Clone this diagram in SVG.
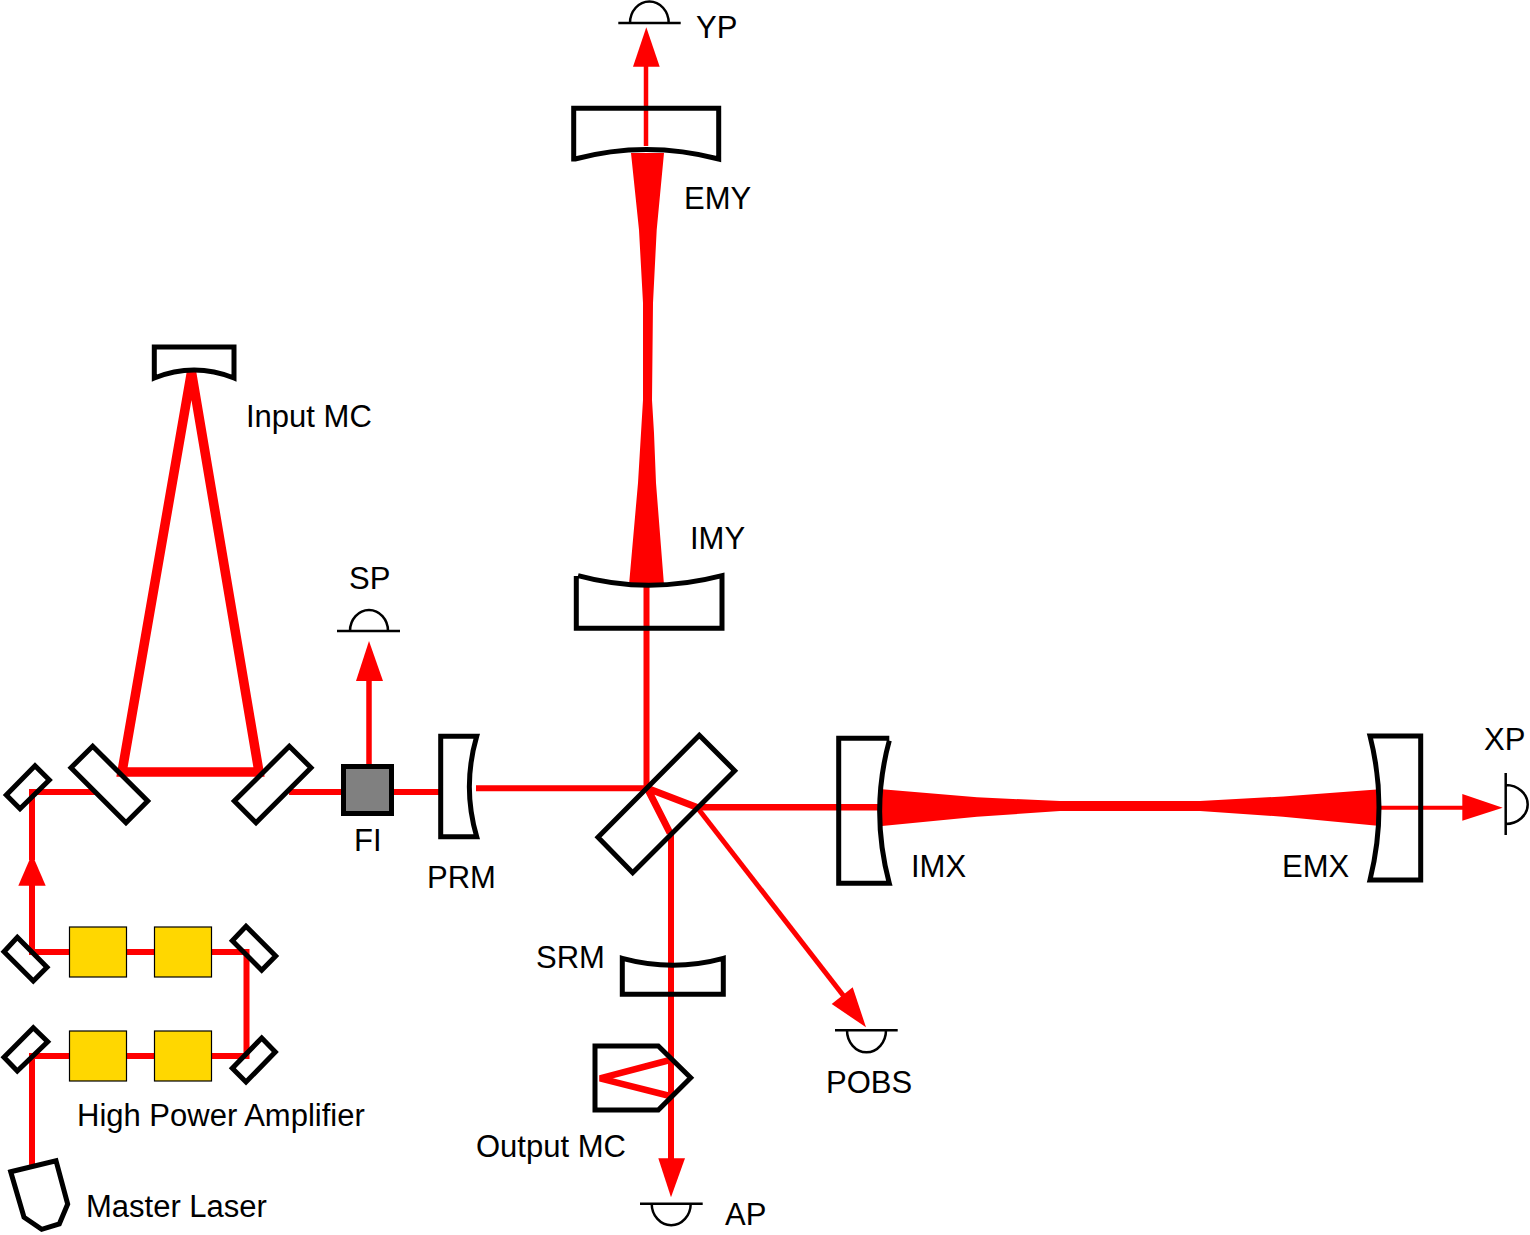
<svg xmlns="http://www.w3.org/2000/svg" width="1530" height="1235" viewBox="0 0 1530 1235">
<style>
.b{fill:none;stroke:#f00;stroke-width:6}
.t{stroke-width:9.500}
.f{fill:#f00;stroke:none}
.o{fill:none;stroke:#000;stroke-width:5;stroke-linejoin:miter}
.d{fill:none;stroke:#000;stroke-width:2.5}
.a{fill:#ffd700;stroke:#000;stroke-width:1.2}
text{font-family:"Liberation Sans",Arial,sans-serif;font-size:31px;fill:#000}
</style>
<rect width="1530" height="1235" fill="#fff"/>
<g id="connectors">
<path class="b" d="M32,1165V1056H246.500V952H32V880"/>
<path class="b" d="M32,860V792H95"/>
<path class="f" d="M32,854L45.700,885.700H18.300Z"/>
<path class="b t" d="M122,772L191.500,372L259,772Z"/>
<path class="b" d="M289,792H440"/>
<path class="b" style="stroke-width:5.500" d="M369,766V675"/>
<path class="f" d="M369,641L383,681H356Z"/>
<path class="b" d="M476,788.300H646.500V585"/>
<path class="f" d="M631,153L639,230L643,303L643,400L641,433L638,483L629,585H664L656,483L654,433L652,400L653,303L656.700,230L664,153Z"/>
<path class="b" style="stroke-width:4.500" d="M646,146V60"/>
<path class="f" d="M646.300,27.300L659.700,66.700H633Z"/>
<path class="b" style="stroke-width:7;stroke-linejoin:bevel" d="M696.700,807.300L647.300,788.300L670,833"/>
<path class="b" style="stroke-width:6.500" d="M697,807.300H880"/>
<path class="f" d="M882,789.300L977,797.300L1060,801L1200,801L1283,796.500L1380,789.300V826L1283,816.700L1200,811L1060,811L977,816.700L882,826Z"/>
<path class="b" style="stroke-width:4" d="M1380,807.700H1470"/>
<path class="f" d="M1502.700,807.700L1462.300,820.700V794Z"/>
<path class="b" d="M671,833V1165"/>
<path class="f" d="M671,1197.300L658.300,1158.300H685Z"/>
<path class="b" style="stroke-width:5" d="M697,807.300L853,1008"/>
<path class="f" d="M866,1027.300L831.700,1004L852.700,987.300Z"/>
<path class="b" style="stroke-width:6.500" d="M670,1060L600,1078.300L670,1096"/>
</g>
<g id="master-laser"><path class="o" d="M10.700,1171.700L56,1160.700L67.700,1204L59.300,1224L41.700,1229.300L24,1217.300Z"/><text x="86" y="1217">Master Laser</text></g>
<g id="amplifier">
<rect class="a" x="69.500" y="927" width="57" height="50"/>
<rect class="a" x="154.500" y="927" width="57" height="50"/>
<rect class="a" x="69.500" y="1031" width="57" height="50"/>
<rect class="a" x="154.500" y="1031" width="57" height="50"/>
<text x="77" y="1126">High Power Amplifier</text>
</g>
<g id="steer-1"><path class="o" d="M17.300,937.300L47,967.300L33.300,981L4,951.700Z"/></g>
<g id="steer-2"><path class="o" d="M246,926.300L275.700,956L261.700,970.300L232.300,940.700Z"/></g>
<g id="steer-3"><path class="o" d="M33.300,1027.700L47.700,1041.700L17.300,1071L4,1057.300Z"/></g>
<g id="steer-4"><path class="o" d="M261.700,1038L275.300,1052L246,1082L232.300,1068.300Z"/></g>
<g id="steer-5"><path class="o" d="M35,765.700L49.300,780L20,808.700L6.300,795Z"/></g>
<g id="input-mc">
<path class="o" d="M92.700,746.300L147.700,801L126,822.700L71,767.700Z"/>
<path class="o" d="M289.300,746.300L311,767.700L256,822.700L234.300,801Z"/>
<path class="o" d="M154.300,378V347H234V378Q194,362 154.300,378Z"/>
<text x="246" y="427">Input MC</text>
</g>
<g id="fi"><rect x="343.500" y="766.500" width="48" height="47" fill="#808080" stroke="#000" stroke-width="5"/><text x="354" y="851">FI</text></g>
<g id="prm"><path class="o" d="M476.700,736.300H440.700V836.700H476.700Q462,787 476.700,736.300Z"/><text x="427" y="888">PRM</text></g>
<g id="sp"><path class="d" d="M337,631H400M350,631A19,21 0 0 1 388,631"/><text x="349" y="589">SP</text></g>
<g id="bs"><path class="o" d="M699.300,735.300L734.700,770.700L632.700,872.700L598,837.300Z"/></g>
<g id="imy"><path class="o" d="M578,575.700Q648,595 722,575.700V628.300H576.300V576"/><text x="690" y="549">IMY</text></g>
<g id="emy"><path class="o" d="M573.700,108.300H718.700V159Q646,140 575,159H573.700Z"/><text x="684" y="209">EMY</text></g>
<g id="yp"><path class="d" d="M618.300,23H680.700M630,23A19.300,21.500 0 0 1 668.700,23"/><text x="696" y="38">YP</text></g>
<g id="imx"><path class="o" d="M889.300,738.300H838.700V883.300H889.300Q870,811 889.300,740.700"/><text x="911" y="877">IMX</text></g>
<g id="emx"><path class="o" d="M1370,736H1420.700V880H1370Q1388,807 1370,736Z"/><text x="1282" y="877">EMX</text></g>
<g id="xp"><path class="d" d="M1505.700,773V835M1505.700,785A22,19.500 0 0 1 1505.700,824"/><text x="1484" y="750">XP</text></g>
<g id="srm"><path class="o" d="M622.300,958.300Q673,972 723.300,958.300V994.300H622.300Z"/><text x="536" y="968">SRM</text></g>
<g id="output-mc"><path class="o" d="M595,1046H658.300L690.700,1077.700L658.300,1110H595Z"/><text x="476" y="1157">Output MC</text></g>
<g id="ap"><path class="d" d="M640,1203.700H702.700M651.700,1203.700A19.500,21.500 0 0 0 690.700,1203.700"/><text x="725" y="1225">AP</text></g>
<g id="pobs"><path class="d" d="M835,1030.300H897.700M847,1030.300A19.500,22 0 0 0 886,1030.300"/><text x="826" y="1093">POBS</text></g>
</svg>
